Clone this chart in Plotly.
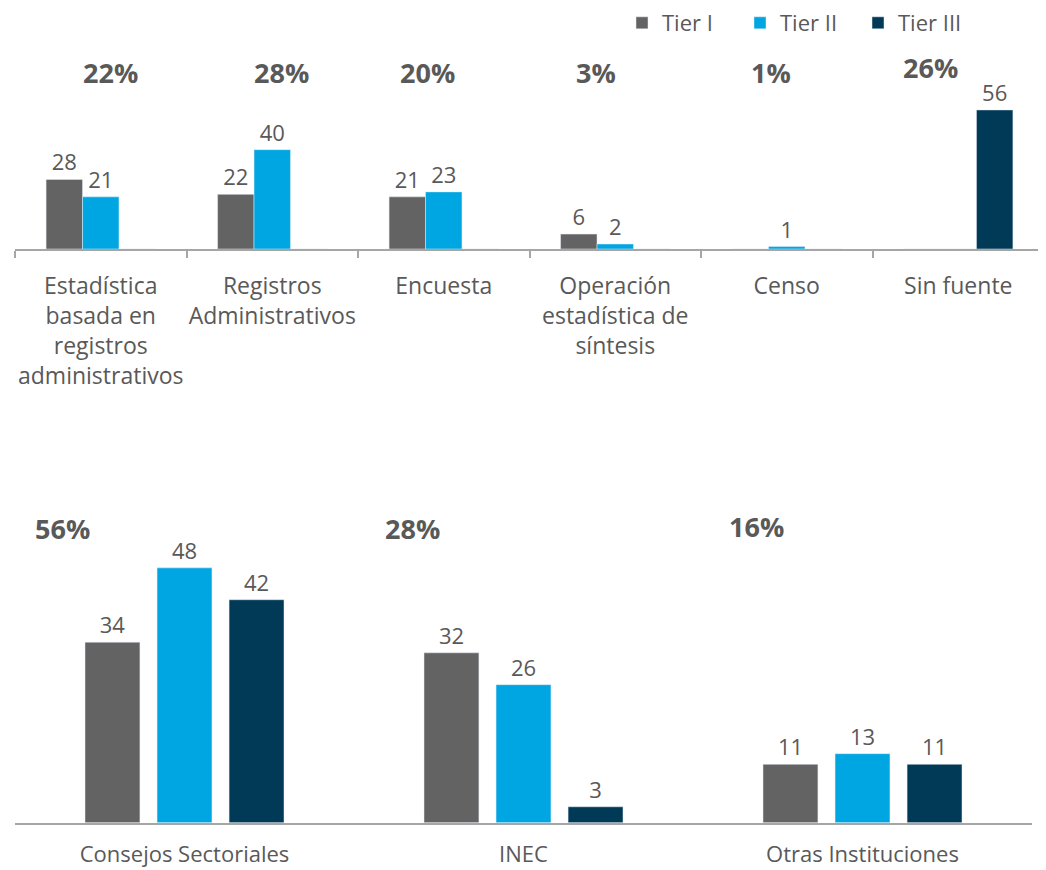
import plotly.graph_objects as go

W, H = 1046, 870
OFF = 8  # page body margin in the browser
FW, FH = W - OFF, H - OFF

# ---- data ----
top_categories = ["Estadística<br>basada en<br>registros<br>administrativos",
                  "Registros<br>Administrativos", "Encuesta",
                  "Operación<br>estadística de<br>síntesis", "Censo", "Sin fuente"]
top_tier1 = [28, 22, 21, 6, 0, 0]
top_tier2 = [21, 40, 23, 2, 1, 0]
top_tier3 = [0, 0, 0, 0, 0, 56]
top_pct = ["22%", "28%", "20%", "3%", "1%", "26%"]

bot_categories = ["Consejos Sectoriales", "INEC", "Otras Instituciones"]
bot_tier1 = [34, 32, 11]
bot_tier2 = [48, 26, 13]
bot_tier3 = [42, 3, 11]
bot_pct = ["56%", "28%", "16%"]

series_names = ["Tier I", "Tier II", "Tier III"]
colors = ["#636363", "#00A6E2", "#003A56"]

FONT = "Open Sans"
GRAY = "#595959"


def px_x(p):
    return (p - OFF) / FW


def px_y(p):
    return 1 - (p - OFF) / FH


def labels(vals):
    return [str(v) if v else "" for v in vals]


fig = go.Figure()

for name, vals, col in zip(series_names, [top_tier1, top_tier2, top_tier3], colors):
    fig.add_trace(go.Bar(
        x=top_categories, y=vals, name=name, marker_color=col,
        text=labels(vals), textposition="outside", constraintext="none",
        cliponaxis=False, outsidetextfont=dict(family=FONT, size=22, color=GRAY),
        legendgroup=name, xaxis="x", yaxis="y",
    ))

for name, vals, col in zip(series_names, [bot_tier1, bot_tier2, bot_tier3], colors):
    fig.add_trace(go.Bar(
        x=bot_categories, y=vals, name=name, marker_color=col, width=0.162,
        text=labels(vals), textposition="outside", constraintext="none",
        cliponaxis=False, outsidetextfont=dict(family=FONT, size=22, color=GRAY),
        legendgroup=name, showlegend=False, xaxis="x2", yaxis="y2",
    ))

annotations = []
top_pct_pos = [(110, 73), (281, 73), (427, 73), (596, 73), (771, 73), (930, 68)]
bot_pct_pos = [(62, 528), (412, 528), (756, 526)]
for t, (x, y) in zip(top_pct + bot_pct, top_pct_pos + bot_pct_pos):
    annotations.append(dict(text=f"<b>{t}</b>", x=px_x(x), y=px_y(y), xref="paper", yref="paper",
                            showarrow=False, font=dict(family=FONT, size=27, color=GRAY),
                            xanchor="center", yanchor="middle"))

fig.update_layout(
    width=FW, height=FH,
    margin=dict(l=0, r=0, t=0, b=0, autoexpand=False),
    paper_bgcolor="white", plot_bgcolor="white",
    barmode="group", bargap=0.3625, bargroupgap=0,
    font=dict(family=FONT, size=22, color=GRAY),
    showlegend=True,
    legend=dict(orientation="h", x=px_x(976), xanchor="right", y=px_y(2), yanchor="top",
                font=dict(family=FONT, size=22, color=GRAY), bgcolor="rgba(0,0,0,0)",
                entrywidth=73, entrywidthmode="pixels", traceorder="normal"),
    xaxis=dict(domain=[px_x(15), px_x(1044)], anchor="y", type="category",
               showline=True, linecolor="#A6A6A6", linewidth=1.5,
               ticks="outside", tickson="boundaries", ticklen=7, tickcolor="#A6A6A6", tickwidth=1.5,
               tickangle=0, automargin=False,
               tickfont=dict(family=FONT, size=23, color=GRAY), ticklabelstandoff=16,
               showgrid=False, zeroline=False, fixedrange=True),
    yaxis=dict(domain=[px_y(249), px_y(100)], anchor="x", range=[0, 60],
               visible=False, showgrid=False, zeroline=False, fixedrange=True),
    xaxis2=dict(domain=[px_x(15), px_x(1032)], anchor="y2", type="category",
                showline=True, linecolor="#A6A6A6", linewidth=1.5, ticks="",
                tickangle=0, automargin=False,
                tickfont=dict(family=FONT, size=22, color=GRAY), ticklabelstandoff=11,
                showgrid=False, zeroline=False, fixedrange=True),
    yaxis2=dict(domain=[px_y(822.7), px_y(530.7)], anchor="x2", range=[0, 55],
                visible=False, showgrid=False, zeroline=False, fixedrange=True),
    annotations=annotations,
)

fig.write_html("out.html")
